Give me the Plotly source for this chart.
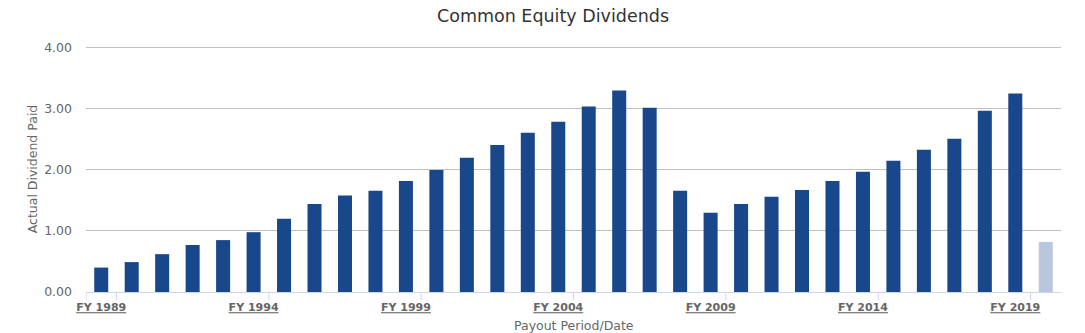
import plotly.graph_objects as go

years = list(range(1989, 2021))
categories = [f"FY {y}" for y in years]
dividends = [0.40, 0.49, 0.62, 0.77, 0.85, 0.98, 1.20, 1.44, 1.58, 1.66,
             1.82, 2.00, 2.20, 2.41, 2.61, 2.79, 3.04, 3.30, 3.02, 1.66,
             1.30, 1.44, 1.56, 1.67, 1.82, 1.97, 2.15, 2.33, 2.51, 2.97,
             3.25, 0.82]
estimate_flags = [False] * 31 + [True]
label_years = ["FY 1989", "FY 1994", "FY 1999", "FY 2004", "FY 2009", "FY 2014", "FY 2019"]
y_ticks = [0, 1, 2, 3, 4]

DARK = "#19478c"
LIGHT = "#b9c7dd"
FONT = "DejaVu Sans"

colors = [LIGHT if f else DARK for f in estimate_flags]

fig = go.Figure()
fig.add_trace(go.Bar(x=categories, y=dividends, marker=dict(color=colors, line=dict(width=0)),
                     hoverinfo="x+y"))

ticktext = [f"<span style='text-decoration:underline;text-decoration-color:#cccccc'>{c}</span>"
            for c in label_years]

# tick marks at category boundaries (Highcharts "between" placement)
tick_positions = [-0.5] + [categories.index(c) + 0.5 for c in label_years]
shapes = [dict(type="line", xref="x", yref="paper", x0=p, x1=p, y0=0, y1=-8,
               ysizemode="pixel", yanchor=0, line=dict(color="#ccd6eb", width=1))
          for p in tick_positions]

fig.update_layout(
    width=1085, height=333,
    margin=dict(l=86, r=24, t=46, b=41),
    paper_bgcolor="white", plot_bgcolor="white",
    bargap=0.54,
    showlegend=False,
    title=dict(text="Common Equity Dividends", x=553 / 1085, xanchor="center",
               y=1 - 16 / 333, yanchor="middle",
               font=dict(family=FONT, size=17.5, color="#333333")),
    font=dict(family=FONT, color="#666666"),
    shapes=shapes,
    annotations=[dict(text="Payout Period/Date", xref="paper", yref="paper", x=0.5, y=0,
                      xanchor="center", yanchor="middle", yshift=-33, showarrow=False,
                      font=dict(family=FONT, size=12.5, color="#666666"))],
)
fig.update_xaxes(
    type="category", range=[-0.5, len(categories) - 0.5],
    tickmode="array", tickvals=label_years, ticktext=ticktext,
    ticks="", showgrid=False, showline=True, linecolor="#ccd6eb", linewidth=1,
    tickfont=dict(family=FONT, size=11, color="#666666", weight="bold"),
    ticklabelstandoff=5, automargin=False,
    zeroline=False,
)
fig.update_yaxes(
    range=[0, 4.03], tickmode="array", tickvals=y_ticks,
    ticktext=[f"{v:.2f}" for v in y_ticks],
    showgrid=True, gridcolor="#c0c0c0", gridwidth=1, zeroline=False,
    showline=False, ticks="", ticklabelstandoff=13, automargin=False,
    tickfont=dict(family=FONT, size=12.5, color="#666666"),
    title=dict(text="Actual Dividend Paid", font=dict(family=FONT, size=12.5, color="#666666"),
               standoff=3),
)

fig.write_html("out.html")
